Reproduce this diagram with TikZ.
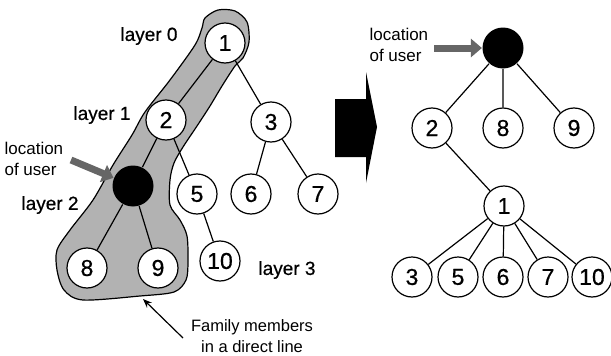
\documentclass[tikz,border=0pt]{standalone}
\usepackage{fontspec}
\setmainfont{Liberation Sans}
\newfontfamily\heavysans[FakeBold=0.6]{Liberation Sans}
\usetikzlibrary{arrows.meta}
\begin{document}
\begin{tikzpicture}[x=1pt,y=-1pt, line width=1.2pt,
  vtx/.style={circle, draw, fill=white, minimum size=40pt, inner sep=0pt, font=\heavysans\fontsize{23}{23}\selectfont},
  usr/.style={circle, fill=black, minimum size=41pt, inner sep=0pt},
  lbl/.style={font=\heavysans\fontsize{19}{19}\selectfont, inner sep=0pt},
  small/.style={font=\fontsize{17}{21}\selectfont, inner sep=0pt},
  grayarrow/.style={draw=black!60, line width=7pt, -{Triangle[length=11pt,width=18pt]}},
  edge/.style={draw, line width=1.2pt},
]
\useasboundingbox (0,0) rectangle (611,356);

% family blob
\draw[fill=black!30, line width=1.2pt] plot[smooth cycle, tension=0.5] coordinates {
  (205,18) (218,10) (235,11) (247,22) (249,42) (243,58) (235,66) (222,86)
  (210,106) (197,126) (183,147) (174,163) (170,180) (170,205) (180,220)
  (187,236) (188,262) (186,280) (174,292) (140,296) (83,300) (64,290)
  (57,270) (57,250) (70,230) (93,200) (113,165) (132,135) (145,112)
  (170,80) (195,45) (202,28)};

% left tree nodes
\node[vtx] (a1) at (225,43) {1};
\node[vtx] (a2) at (166,120) {2};
\node[vtx] (a3) at (271,122) {3};
\node[usr] (au) at (133,186) {};
\node[vtx] (a5) at (197,194) {5};
\node[vtx] (a6) at (251,194) {6};
\node[vtx] (a7) at (318,194) {7};
\node[vtx] (a8) at (87,268) {8};
\node[vtx] (a9) at (158,268) {9};
\node[vtx] (a10) at (220,261) {10};

\path[edge] (a1) -- (a2) (a1) -- (a3) (a2) -- (au) (a2) -- (a5)
  (a3) -- (a6) (a3) -- (a7) (au) -- (a8) (au) -- (a9) (a5) -- (a10);

% left labels
\node[lbl] (l0) at (149,36) {layer 0};
\node[lbl] (l1) at (102,115) {layer 1};
\node[lbl] (l2) at (50,205) {layer 2};
\node[lbl] (l3) at (287,270) {layer 3};
\node[small, align=left, anchor=west] (lloc) at (4,159) {location\\of user};
\coordinate (la) at (71,160);
\draw[grayarrow] (la) -- (au);

\node[small, font=\fontsize{16.5}{21}\selectfont, align=center] (fam) at (252,336) {Family members\\in a direct line};
\coordinate (famarr) at (183,338);
\coordinate (blobpt) at (143,299);
\draw[-{Stealth[length=9pt,width=7pt]}] (famarr) -- (blobpt);

% transformation arrow
\fill (335,99) -- (366,99) -- (366,72) -- (377,127) -- (366,183) -- (366,157) -- (335,157) -- cycle;

% right tree
\node[usr] (bu) at (503,48) {};
\node[vtx] (b2) at (432,128) {2};
\node[vtx] (b8) at (503,128) {8};
\node[vtx] (b9) at (574,128) {9};
\node[vtx] (b1) at (504,206) {1};
\node[vtx] (b3) at (412,277) {3};
\node[vtx] (b5) at (458,277) {5};
\node[vtx] (b6) at (503,277) {6};
\node[vtx] (b7) at (548,277) {7};
\node[vtx] (b10) at (592,277) {10};

\path[edge] (bu) -- (b2) (bu) -- (b8) (bu) -- (b9) (b2) -- (b1)
  (b1) -- (b3) (b1) -- (b5) (b1) -- (b6) (b1) -- (b7) (b1) -- (b10);

\node[small, align=left, anchor=west] (rloc) at (369,45) {location\\of user};
\coordinate (ra) at (434,48);
\draw[grayarrow] (ra) -- (bu);
\end{tikzpicture}
\end{document}
